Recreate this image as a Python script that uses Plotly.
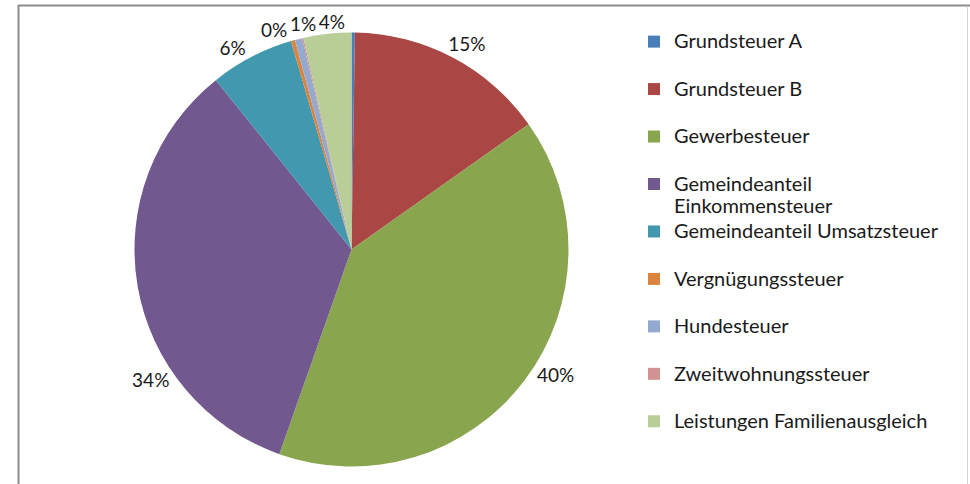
import plotly.graph_objects as go

categories = [
    "Grundsteuer A",
    "Grundsteuer B",
    "Gewerbesteuer",
    "Gemeindeanteil|Einkommensteuer",
    "Gemeindeanteil Umsatzsteuer",
    "Vergnügungssteuer",
    "Hundesteuer",
    "Zweitwohnungssteuer",
    "Leistungen Familienausgleich",
]
values = [0.25, 14.95, 40.2, 33.85, 6.25, 0.3, 0.55, 0.1, 3.55]
colors = ["#4A7EBB", "#AA4643", "#89A54E", "#71588F", "#4198AF",
          "#DB843D", "#93A9CF", "#D19392", "#B9CD96"]

# label layers: (slice indices whose percentage is shown, rotation tweak in deg)
# layer 0 carries the visible pie; the others are transparent copies used only
# to place labels the way the reference's best-fit placement does.
label_layers = [
    ([4], 0.0),
    ([1, 2], -3.0),
    ([3], -26.0),
    ([5], 0.0),
    ([6], 6.3),
    ([8], 6.2),
]

W, H = 970, 484
cx, cy, R = 351.5, 249.5, 217.0
FONT = "Lato"
TXT = "#1a1a1a"


def legend_label(c):
    parts = c.split("|")
    spans = ['<span style="font-size:20px">%s</span>' % p for p in parts]
    if len(spans) == 1:
        spans.append(" ")
    return "<br>".join(spans)


labels = [legend_label(c) for c in categories]
domain = dict(x=[(cx - R) / W, (cx + R) / W],
              y=[(H - cy - R) / H, (H - cy + R) / H])

fig = go.Figure()
for i, (shown, rot) in enumerate(label_layers):
    tt = ["%{percent:.0%}" if k in shown else "" for k in range(len(values))]
    fig.add_trace(go.Pie(
        labels=labels,
        values=values,
        sort=False,
        direction="clockwise",
        rotation=rot,
        marker=dict(colors=colors if i == 0 else ["rgba(0,0,0,0)"] * len(values),
                    line=dict(width=0)),
        texttemplate=tt,
        textposition="outside",
        outsidetextfont=dict(family=FONT, size=19, color=TXT),
        hoverinfo="skip" if i else "label+percent",
        showlegend=(i == 0),
        domain=domain,
    ))

fig.update_layout(
    width=W, height=H,
    margin=dict(l=0, r=0, t=0, b=0, autoexpand=False),
    paper_bgcolor="white",
    font=dict(family=FONT, size=17.1, color=TXT),
    legend=dict(x=634 / W, y=1 - 24 / H, xanchor="left", yanchor="top",
                valign="top", font=dict(family=FONT, size=17.1, color=TXT),
                bgcolor="rgba(0,0,0,0)"),
    shapes=[
        dict(type="line", xref="paper", yref="paper", x0=18 / W, x1=1.0,
             y0=1 - 5.5 / H, y1=1 - 5.5 / H, line=dict(color="#8c8c8c", width=2)),
        dict(type="line", xref="paper", yref="paper", x0=18.5 / W, x1=18.5 / W,
             y0=-0.05, y1=1 - 5 / H, line=dict(color="#8c8c8c", width=2)),
        dict(type="line", xref="paper", yref="paper", x0=967.5 / W, x1=967.5 / W,
             y0=-0.05, y1=1 - 6 / H, line=dict(color="#d4d4d4", width=1)),
    ],
)

fig.write_html(
    "out.html",
    config={"displayModeBar": False},
    post_script="document.body.style.margin='0';document.body.style.overflow='hidden';",
)
